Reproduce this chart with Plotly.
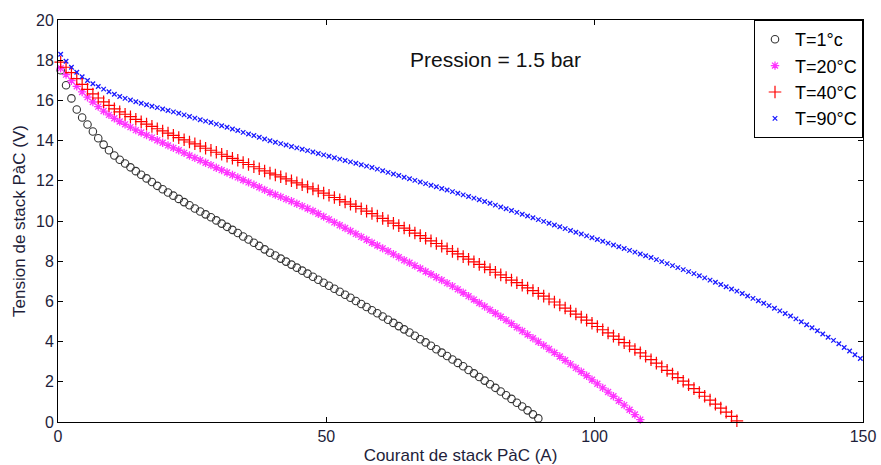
import plotly.graph_objects as go

v_1 = [17.5,16.75,16.1,15.55,15.15,14.8,14.45,14.12,13.8,13.52,
       13.26,13.05,12.86,12.67,12.48,12.3,12.12,11.94,11.75,11.58,
       11.42,11.26,11.1,10.94,10.78,10.62,10.47,10.33,10.19,10.03,
       9.87,9.71,9.56,9.4,9.23,9.08,8.92,8.76,8.59,8.42,
       8.28,8.13,7.98,7.83,7.68,7.53,7.38,7.23,7.08,6.93,
       6.78,6.63,6.48,6.33,6.18,6.02,5.87,5.72,5.56,5.41,
       5.25,5.09,4.93,4.77,4.61,4.45,4.29,4.12,3.96,3.79,
       3.62,3.45,3.28,3.11,2.94,2.77,2.59,2.42,2.24,2.06,
       1.88,1.7,1.52,1.33,1.15,0.96,0.77,0.58,0.38,0.18]

v_20 = [17.6,17.28,16.98,16.7,16.42,16.16,15.92,15.69,15.47,15.28,
        15.11,14.95,14.81,14.67,14.52,14.4,14.27,14.15,14.02,13.89,
        13.76,13.64,13.52,13.39,13.26,13.14,13.02,12.9,12.78,12.65,
        12.53,12.41,12.29,12.17,12.04,11.92,11.8,11.68,11.55,11.42,
        11.31,11.2,11.09,10.98,10.86,10.74,10.62,10.5,10.36,10.22,
        10.08,9.93,9.79,9.65,9.5,9.36,9.21,9.07,8.92,8.78,
        8.64,8.5,8.35,8.2,8.05,7.92,7.78,7.64,7.49,7.35,
        7.2,7.06,6.91,6.76,6.6,6.43,6.26,6.09,5.92,5.75,
        5.58,5.41,5.24,5.07,4.89,4.71,4.53,4.35,4.17,3.99,
        3.81,3.63,3.45,3.26,3.07,2.88,2.69,2.5,2.3,2.1,
        1.9,1.7,1.49,1.28,1.06,0.84,0.61,0.37,0.12]

v_40 = [17.9,17.65,17.38,17.08,16.8,16.55,16.32,16.12,15.93,15.75,
        15.58,15.43,15.31,15.19,15.06,14.94,14.82,14.71,14.59,14.48,
        14.37,14.26,14.15,14.04,13.93,13.84,13.73,13.62,13.52,13.42,
        13.32,13.22,13.12,13.02,12.91,12.81,12.7,12.6,12.49,12.38,
        12.29,12.2,12.1,12.0,11.9,11.8,11.7,11.6,11.5,11.39,
        11.28,11.17,11.06,10.95,10.84,10.73,10.61,10.49,10.37,10.25,
        10.13,10.01,9.89,9.77,9.65,9.53,9.4,9.27,9.14,9.01,
        8.88,8.75,8.62,8.49,8.36,8.23,8.1,7.97,7.84,7.71,
        7.58,7.45,7.32,7.19,7.06,6.93,6.8,6.67,6.54,6.4,
        6.26,6.12,5.97,5.82,5.67,5.52,5.37,5.22,5.07,4.91,
        4.75,4.59,4.43,4.27,4.11,3.95,3.78,3.61,3.44,3.27,
        3.1,2.93,2.75,2.57,2.39,2.21,2.03,1.85,1.66,1.47,
        1.28,1.09,0.89,0.69,0.49,0.28,0.06]

v_90 = [18.3,17.95,17.65,17.4,17.18,16.99,16.83,16.69,16.56,16.43,
        16.31,16.19,16.1,16.02,15.93,15.86,15.78,15.71,15.64,15.57,
        15.5,15.43,15.36,15.28,15.2,15.12,15.04,14.97,14.9,14.82,
        14.74,14.66,14.58,14.5,14.41,14.33,14.25,14.17,14.08,13.99,
        13.92,13.85,13.78,13.71,13.64,13.57,13.5,13.43,13.36,13.29,
        13.22,13.15,13.08,13.01,12.94,12.87,12.8,12.73,12.66,12.58,
        12.5,12.42,12.34,12.26,12.18,12.1,12.02,11.94,11.86,11.78,
        11.7,11.62,11.54,11.46,11.38,11.3,11.22,11.14,11.06,10.97,
        10.88,10.79,10.7,10.61,10.52,10.43,10.34,10.25,10.16,10.07,
        9.98,9.89,9.8,9.71,9.62,9.53,9.44,9.35,9.26,9.17,
        9.08,8.99,8.9,8.81,8.72,8.63,8.54,8.45,8.36,8.27,
        8.18,8.08,7.98,7.88,7.78,7.68,7.58,7.48,7.38,7.28,
        7.17,7.06,6.95,6.84,6.73,6.62,6.51,6.39,6.27,6.15,
        6.03,5.91,5.79,5.66,5.53,5.4,5.27,5.13,4.99,4.84,
        4.69,4.54,4.38,4.22,4.06,3.89,3.71,3.53,3.35,3.16]

labels = ["T=1°c", "T=20°C", "T=40°C", "T=90°C"]
x_ticks = [0, 50, 100, 150]
y_ticks = [0, 2, 4, 6, 8, 10, 12, 14, 16, 18, 20]


def currents(values):
    return [0.5 + i for i in range(len(values))]


FONT = "Arial, Liberation Sans, sans-serif"
fig = go.Figure()

fig.add_trace(go.Scatter(
    x=currents(v_1), y=v_1, mode="markers", name=labels[0], cliponaxis=False,
    marker=dict(symbol="circle-open", size=7.5, color="#333333",
                line=dict(width=1.1, color="#333333"))))
fig.add_trace(go.Scatter(
    x=currents(v_20), y=v_20, mode="markers", name=labels[1], cliponaxis=False,
    marker=dict(symbol="asterisk-open", size=7, color="#ff33ff",
                line=dict(width=1.3, color="#ff33ff"))))
fig.add_trace(go.Scatter(
    x=currents(v_40), y=v_40, mode="markers", name=labels[2], cliponaxis=False,
    marker=dict(symbol="cross-thin-open", size=9, color="#ff0000",
                line=dict(width=1.2, color="#ff0000"))))
fig.add_trace(go.Scatter(
    x=currents(v_90), y=v_90, mode="markers", name=labels[3], cliponaxis=False,
    marker=dict(symbol="x-thin-open", size=4.5, color="#1a1aff",
                line=dict(width=1.3, color="#1a1aff"))))

fig.add_annotation(x=81.5, y=18.05, text="Pression = 1.5 bar", showarrow=False,
                   font=dict(family=FONT, size=21, color="#111111"))

axis_common = dict(showline=True, linecolor="black", linewidth=1, mirror="ticks",
                   ticks="inside", ticklen=5, tickcolor="black", showgrid=False,
                   zeroline=False, automargin=False,
                   tickfont=dict(family=FONT, size=16, color="#1e1e3a"))

fig.update_xaxes(range=[0, 150], tickvals=x_ticks,
                 title=dict(text="Courant de stack PàC (A)", standoff=4,
                            font=dict(family=FONT, size=17, color="#1e1e3a")),
                 **axis_common)
fig.update_yaxes(range=[0, 20], tickvals=y_ticks,
                 title=dict(text="Tension de stack PàC (V)", standoff=6,
                            font=dict(family=FONT, size=17, color="#1e1e3a")),
                 **axis_common)

fig.update_layout(
    width=881, height=465,
    margin=dict(l=58, r=18, t=20, b=43, autoexpand=False),
    paper_bgcolor="white", plot_bgcolor="white",
    showlegend=True,
    legend=dict(x=1, xanchor="right", y=1, yanchor="top",
                bgcolor="white", bordercolor="black", borderwidth=1,
                font=dict(family=FONT, size=18, color="black"),
                tracegroupgap=0, itemwidth=30),
)

fig.write_html("out.html")
